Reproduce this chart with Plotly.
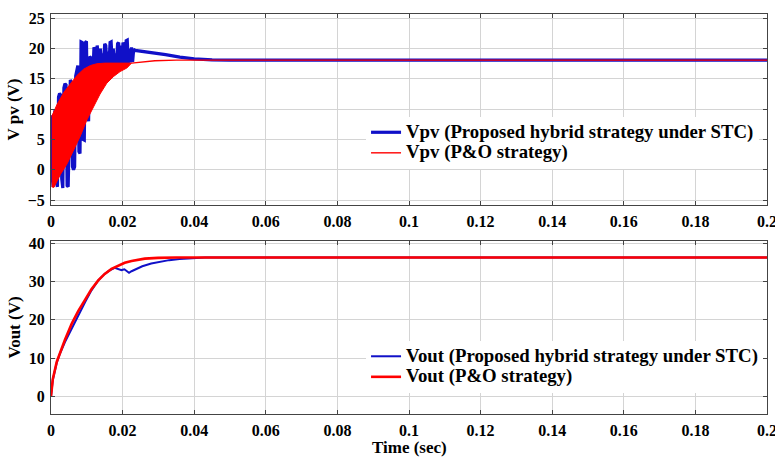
import plotly.graph_objects as go
from plotly.subplots import make_subplots

# ---------------- data ----------------
# Top panel: PV voltage, proposed hybrid strategy (blue)
t_vpv_hyb = [0.0000, 0.0001, 0.0003, 0.0006, 0.0009, 0.0012, 0.0015, 0.0018, 0.0021, 0.0024,
             0.0027, 0.0030, 0.0033, 0.0036, 0.0039, 0.0042, 0.0045, 0.0048, 0.0051, 0.0054,
             0.0057, 0.0060, 0.0063, 0.0066, 0.0069, 0.0072, 0.0075, 0.0078, 0.0081, 0.0084,
             0.0087, 0.0090, 0.0093, 0.0096, 0.0099, 0.0102, 0.0105, 0.0108, 0.0111, 0.0114,
             0.0117, 0.0120, 0.0123, 0.0126, 0.0129, 0.0132, 0.0135, 0.0138, 0.0141, 0.0144,
             0.0147, 0.0150, 0.0153, 0.0156, 0.0159, 0.0162, 0.0165, 0.0168, 0.0171, 0.0174,
             0.0177, 0.0180, 0.0183, 0.0186, 0.0189, 0.0192, 0.0195, 0.0198, 0.0201, 0.0204,
             0.0207, 0.0210, 0.0213, 0.0216, 0.0219, 0.0222, 0.0225, 0.0228, 0.0231, 0.0235,
             0.0250, 0.0280, 0.0320, 0.0360, 0.0400, 0.0450, 0.0500, 0.1000, 0.1500, 0.2000]
vpv_hyb = [0.0, 9.0, -1.0, -2.8, 9.0, 10.0, -2.0, -2.8, 12.0, 12.6,
           12.3, -1.5, -3.0, 13.5, 14.2, 14.0, -2.6, -2.8, 6.0, 14.8,
           14.5, 0.5, 0.0, 0.5, 15.5, 16.8, 17.2, 3.0, 2.7, 21.1,
           21.0, 5.0, 4.9, 21.0, 21.2, 9.0, 8.0, 18.7, 18.5, 11.0,
           17.0, 20.2, 19.8, 17.0, 20.5, 18.5, 17.2, 20.0, 17.5, 19.2,
           17.3, 20.8, 20.5, 17.4, 19.5, 17.5, 21.0, 21.1, 17.6, 20.0,
           17.5, 19.2, 17.6, 20.8, 21.0, 17.6, 20.5, 17.5, 21.0, 20.5,
           17.6, 21.3, 21.4, 17.6, 20.0, 17.7, 20.2, 17.8, 19.9, 19.7,
           19.6, 19.3, 19.0, 18.6, 18.3, 18.15, 18.1, 18.1, 18.1, 18.1]

# Top panel: P&O strategy (red) - oscillation band envelope, then settled curve
t_po_upper = [0.0002, 0.0017, 0.0036, 0.0054, 0.0073, 0.0091, 0.0110, 0.0128, 0.0150, 0.0190, 0.0225]
vpv_po_upper = [8.8, 10.8, 12.8, 14.2, 15.6, 16.6, 17.2, 17.5, 17.6, 17.6, 17.6]
t_po_lower = [0.0002, 0.0008, 0.0026, 0.0045, 0.0063, 0.0082, 0.0100, 0.0119, 0.0137, 0.0156, 0.0175, 0.0193, 0.0212, 0.0225]
vpv_po_lower = [-2.8, -2.9, -0.8, 1.0, 3.2, 5.6, 8.2, 10.4, 12.5, 14.3, 15.4, 16.2, 16.8, 17.6]
t_po_line = [0.0225, 0.0250, 0.0290, 0.0350, 0.0450, 0.1000, 0.2000]
vpv_po_line = [17.6, 17.8, 18.0, 18.1, 18.1, 18.1, 18.1]

# Bottom panel: output voltage
t_vout_hyb = [0.0000, 0.0005, 0.0016, 0.0025, 0.0039, 0.0058, 0.0066, 0.0076, 0.0095, 0.0113,
              0.0132, 0.0150, 0.0165, 0.0178, 0.0190, 0.0197, 0.0205, 0.0210, 0.0218, 0.0225,
              0.0240, 0.0255, 0.0280, 0.0307, 0.0330, 0.0359, 0.0397, 0.0430, 0.1000, 0.2000]
vout_hyb = [0.0, 4.3, 8.8, 11.2, 14.2, 17.8, 19.0, 21.0, 24.6, 27.7,
            30.3, 32.0, 33.0, 33.6, 33.2, 33.0, 33.2, 32.9, 32.3, 32.7,
            33.3, 34.0, 34.7, 35.2, 35.6, 35.9, 36.1, 36.3, 36.3, 36.3]
t_vout_po = [0.0000, 0.0005, 0.0016, 0.0025, 0.0039, 0.0058, 0.0076, 0.0095, 0.0113, 0.0132,
             0.0150, 0.0169, 0.0188, 0.0206, 0.0225, 0.0262, 0.0299, 0.0350, 0.1000, 0.2000]
vout_po = [0.0, 4.5, 9.0, 11.5, 14.8, 19.0, 22.3, 25.2, 28.0, 30.3,
           32.0, 33.3, 34.2, 34.9, 35.4, 36.0, 36.2, 36.3, 36.3, 36.3]

x_ticks = [0, 0.02, 0.04, 0.06, 0.08, 0.1, 0.12, 0.14, 0.16, 0.18, 0.2]
x_ticklabels = ["0", "0.02", "0.04", "0.06", "0.08", "0.1", "0.12", "0.14", "0.16", "0.18", "0.2"]
vpv_ticks = [-5, 0, 5, 10, 15, 20, 25]
vout_ticks = [0, 10, 20, 30, 40]

names = ["Vpv (Proposed hybrid strategy under STC)", "Vpv (P&O strategy)",
         "Vout (Proposed hybrid strategy under STC)", "Vout (P&O strategy)"]

BLUE_DARK = "#1010c8"
RED = "#ff0000"
FONT = "Liberation Serif"


def big(s):
    return '<span style="font-size:18.8px">' + s.replace("&", "&amp;") + "</span>"


fig = make_subplots(rows=2, cols=1)

# top panel
fig.add_trace(go.Scatter(x=t_vpv_hyb, y=vpv_hyb, mode="lines",
                         line=dict(color=BLUE_DARK, width=3.2),
                         name=big(names[0]), legend="legend"), row=1, col=1)
fig.add_trace(go.Scatter(x=t_po_upper + t_po_lower[::-1], y=vpv_po_upper + vpv_po_lower[::-1],
                         mode="lines", fill="toself", fillcolor=RED,
                         line=dict(color=RED, width=1), showlegend=False,
                         legend="legend"), row=1, col=1)
fig.add_trace(go.Scatter(x=t_po_line, y=vpv_po_line, mode="lines",
                         line=dict(color=RED, width=1.4),
                         name=big(names[1]), legend="legend"), row=1, col=1)

# bottom panel
fig.add_trace(go.Scatter(x=t_vout_hyb, y=vout_hyb, mode="lines",
                         line=dict(color=BLUE_DARK, width=2),
                         name=big(names[2]), legend="legend2"), row=2, col=1)
fig.add_trace(go.Scatter(x=t_vout_po, y=vout_po, mode="lines",
                         line=dict(color=RED, width=2.6),
                         name=big(names[3]), legend="legend2"), row=2, col=1)

axis_common = dict(showline=True, linecolor="#444444", linewidth=1, mirror="ticks",
                   ticks="inside", ticklen=4, tickcolor="#444444", automargin=False,
                   showgrid=True, gridcolor="#d4d4d4", gridwidth=1, zeroline=False,
                   tickfont=dict(family=FONT, size=16, color="black", weight="bold"))

fig.update_xaxes(range=[0, 0.2], tickvals=x_ticks, ticktext=x_ticklabels,
                 ticklabeloverflow="allow", ticklabelstandoff=2, **axis_common)
fig.update_yaxes(ticklabelstandoff=2, **axis_common)

title_font = dict(family=FONT, size=17, color="black", weight="bold")
legend_font = dict(family=FONT, size=13.5, color="black", weight="bold")
legend_common = dict(xanchor="left", yanchor="top", bgcolor="white", borderwidth=0,
                     tracegroupgap=0, font=legend_font)

fig.update_layout(
    width=775, height=457,
    margin=dict(l=51, r=8, t=14, b=43),
    paper_bgcolor="white", plot_bgcolor="white",
    showlegend=True,
    xaxis=dict(domain=[0, 1], anchor="y"),
    yaxis=dict(domain=[0.5225, 1], range=[-5.8, 25.7], tickvals=vpv_ticks,
               title=dict(text="V pv (V)", standoff=3, font=title_font)),
    xaxis2=dict(domain=[0, 1], anchor="y2"),
    yaxis2=dict(domain=[0, 0.4325], range=[-4.6, 40.6], tickvals=vout_ticks,
                title=dict(text="Vout (V)", standoff=3, font=title_font)),
    legend=dict(x=0.44, y=0.7425, **legend_common),
    legend2=dict(x=0.44, y=0.1825, **legend_common),
    annotations=[dict(text="Time (sec)", x=0.5, y=-0.0825, xref="paper", yref="paper",
                      xanchor="center", yanchor="middle", showarrow=False, font=title_font)],
)

fig.write_html("out.html")
